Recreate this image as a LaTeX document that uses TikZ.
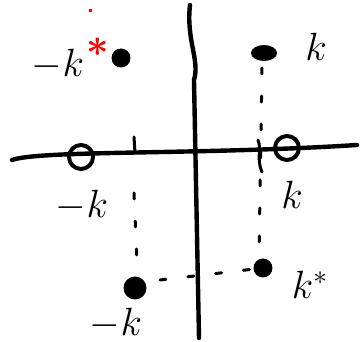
\documentclass[tikz,border=0pt]{standalone}
\usepackage{graphicx}
\usepackage{amsmath}
\usetikzlibrary{shapes.geometric}
\newcommand{\bigk}[1]{\scalebox{1.9}{#1}}
\begin{document}
\begin{tikzpicture}[x=1pt,y=-1pt,
  ink/.style={line width=4.4pt,line cap=round,line join=round},
  dashink/.style={line width=3pt,line cap=round,dash pattern=on 6pt off 22pt},
  lbl/.style={inner sep=0pt,font=\huge},
  pole/.style={circle,fill=black,minimum size=19pt,inner sep=0pt},
  zero/.style={circle,draw=black,line width=4pt,minimum size=24pt,inner sep=0pt}]
\useasboundingbox (0,0) rectangle (360,342);
% axes
\coordinate (xl) at (12,160);
\coordinate (xr) at (357,145);
\coordinate (yt) at (190,5);
\coordinate (yb) at (199,338);
\draw[ink] (xl) .. controls (40,150) and (200,155) .. (xr);
\draw[ink] (yt) .. controls (186,40) and (200,60) .. (194,80) -- (yb);
% zeros
\node[zero] (zl) at (81,157) {};
\node[zero] (zr) at (287,148) {};
% poles
\node[pole] (ptl) at (121,58) {};
\node[pole,ellipse,minimum width=26pt,minimum height=16pt] (ptr) at (264,53) {};
\node[pole] (pbr) at (263,268) {};
\node[pole,minimum size=23pt] (pbl) at (135,288) {};
% ticks
\coordinate (tl) at (134,137);
\coordinate (tr) at (258,140);
\draw[ink,line width=3pt] (tl) -- (135,153);
% dashed projections
\coordinate (dl1) at (134,193);
\coordinate (dl2) at (137,262);
\draw[dashink] (dl1) -- (dl2);
\coordinate (dr1) at (262,68);
\coordinate (dr2) at (259,258);
\draw[dashink] (dr1) -- (dr2);
\draw[ink,line width=3pt] (tr) .. controls (262,150) and (256,158) .. (262,172);
\coordinate (hb1) at (160,280);
\draw[dashink] (hb1) -- (pbr);
% labels
\node[lbl] (l1) at (58,64) {\bigk{$-k$}};
\node[lbl,text=red] (s1) at (98,47) {\bigk{$\boldsymbol{*}$}};
\node[fill=red,minimum size=3pt,inner sep=0pt] (rd) at (91,11) {};
\node[lbl] (l2) at (316,47) {\bigk{$k$}};
\node[lbl] (l3) at (82,205) {\bigk{$-k$}};
\node[lbl] (l4) at (292,195) {\bigk{$k$}};
\node[lbl] (l5) at (310,285) {\bigk{$k^{*}$}};
\node[lbl] (l6) at (116,323) {\bigk{$-k$}};
\end{tikzpicture}
\end{document}
